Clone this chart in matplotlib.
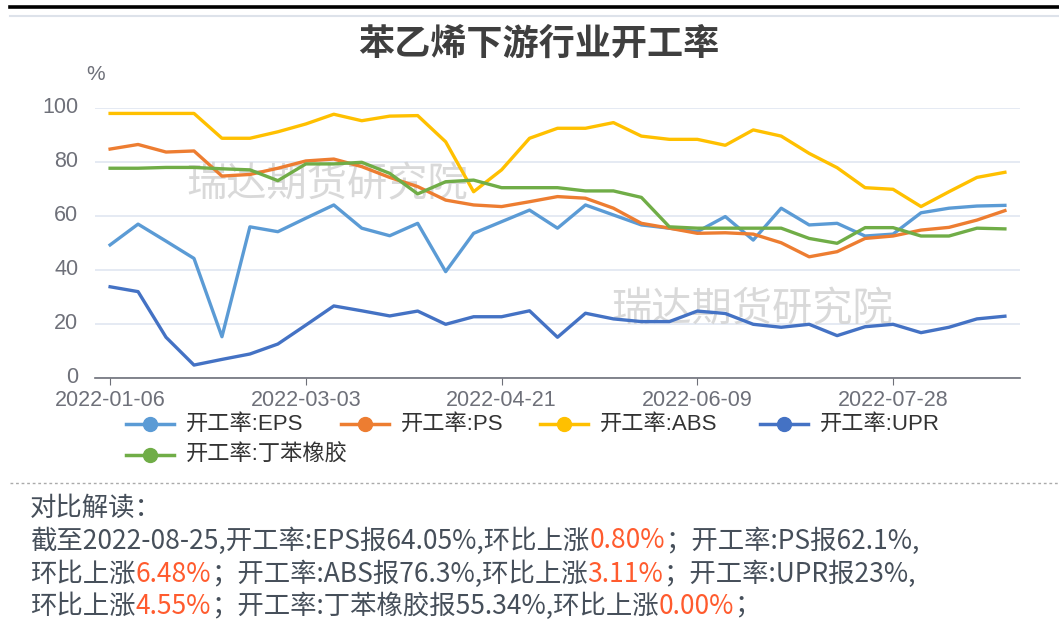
import matplotlib
matplotlib.use("Agg")
import matplotlib.pyplot as plt
import matplotlib.transforms as mtransforms
from matplotlib.lines import Line2D

plt.rcParams['font.family'] = ['Noto Sans CJK SC', 'DejaVu Sans']

W, H = 1059, 641

# weekly dates (spring festival week missing)
dates = ["2022-01-06", "2022-01-13", "2022-01-20", "2022-01-27", "2022-02-10",
         "2022-02-17", "2022-02-24", "2022-03-03", "2022-03-10", "2022-03-17",
         "2022-03-24", "2022-03-31", "2022-04-07", "2022-04-14", "2022-04-21",
         "2022-04-28", "2022-05-05", "2022-05-12", "2022-05-19", "2022-05-26",
         "2022-06-02", "2022-06-09", "2022-06-16", "2022-06-23", "2022-06-30",
         "2022-07-07", "2022-07-14", "2022-07-21", "2022-07-28", "2022-08-04",
         "2022-08-11", "2022-08-18", "2022-08-25"]

eps = [49.4, 57.1, 50.8, 44.4, 15.4, 56.1, 54.3, 59.3, 64.2, 55.6, 52.8,
       57.4, 39.5, 53.7, 58.0, 62.3, 55.6, 64.2, 60.5, 56.8, 55.6, 54.3,
       59.9, 51.2, 63.0, 56.8, 57.4, 52.7, 53.4, 61.3, 63.0, 63.8, 64.05]
ps = [84.9, 86.6, 83.8, 84.2, 74.9, 75.5, 77.8, 80.5, 81.2, 78.4, 74.4,
      71.0, 66.0, 64.2, 63.6, 65.4, 67.3, 66.7, 63.0, 57.4, 55.6, 53.7,
      53.9, 53.4, 50.2, 45.0, 46.9, 51.8, 52.7, 54.9, 55.9, 58.6, 62.1]
abs_ = [98.1, 98.1, 98.1, 98.1, 88.9, 88.9, 91.3, 94.2, 97.8, 95.4, 97.1,
        97.3, 87.6, 69.1, 77.2, 88.9, 92.6, 92.6, 94.7, 89.7, 88.5, 88.5,
        86.3, 92.0, 89.7, 83.3, 78.0, 70.6, 70.0, 63.6, 69.1, 74.4, 76.3]
upr = [33.9, 32.1, 15.2, 4.9, 7.0, 9.0, 12.7, 19.7, 26.8, 25.0, 23.1,
       24.9, 20.0, 22.8, 22.8, 25.0, 15.2, 24.1, 22.0, 21.0, 21.0, 24.9,
       24.0, 20.0, 18.9, 20.0, 15.8, 19.1, 20.0, 16.9, 18.9, 22.0, 23.0]
sbr = [77.8, 77.8, 78.1, 78.1, 77.6, 77.2, 73.2, 79.4, 79.4, 80.0, 75.9,
       68.3, 72.8, 73.4, 70.6, 70.6, 70.6, 69.4, 69.4, 67.0, 56.1, 55.6,
       55.6, 55.6, 55.6, 51.8, 50.0, 55.8, 55.8, 52.7, 52.7, 55.6, 55.34]

names = ["开工率:EPS", "开工率:PS", "开工率:ABS", "开工率:UPR", "开工率:丁苯橡胶"]
colors = ["#5B9BD5", "#ED7D31", "#FFC000", "#4472C4", "#70AD47"]
series = [eps, ps, abs_, upr, sbr]

fig = plt.figure(figsize=(W / 100, H / 100), dpi=100)
fig.patch.set_facecolor("white")


def fx(x):
    return x / W


def fy(y):
    return 1 - y / H


latin = ["Liberation Sans", "Noto Sans CJK SC", "DejaVu Sans"]

# page decorations
fig.add_artist(Line2D([fx(10), 1], [fy(7), fy(7)], color="black", lw=2.6))
fig.add_artist(Line2D([fx(10), 1], [fy(16), fy(16)], color="#dde2ea", lw=1.5))
fig.add_artist(Line2D([fx(10), 1], [fy(483), fy(483)], color="#aaaaaa", lw=1.0,
                      linestyle=(0, (2, 2))))

ax = fig.add_axes([fx(95), fy(378.3), (1020 - 95) / W, (378.3 - 108.3) / H])
x = list(range(len(dates)))
for vals, c in zip(series, colors):
    ax.plot(x, vals, color=c, lw=2.4, zorder=3, solid_joinstyle="round")

ax.set_xlim(-0.54, len(dates) - 1 + 0.54)
ax.set_ylim(0, 100)
ax.set_yticks(range(0, 101, 20))
ax.set_xticks(x[::7])
ax.set_xticklabels(dates[::7])
for s in ["top", "right", "left"]:
    ax.spines[s].set_visible(False)
ax.spines["bottom"].set_color("#6E7079")
ax.spines["bottom"].set_linewidth(1.2)
ax.yaxis.grid(True, color="#E0E6F1", lw=1.2, zorder=0)
ax.set_axisbelow(True)
ax.tick_params(axis="x", length=5, color="#6E7079", labelcolor="#6E7079",
               labelsize=15.5, pad=3.5)
ax.tick_params(axis="y", length=0, labelcolor="#6E7079", labelsize=15.5, pad=12)
for lab in ax.get_xticklabels() + ax.get_yticklabels():
    lab.set_family(["Liberation Sans", "DejaVu Sans"])
# lift the y labels a little so "0" clears the first date
lift = mtransforms.ScaledTranslation(0, 3 / 100, fig.dpi_scale_trans)
for lab in ax.get_yticklabels():
    lab.set_transform(lab.get_transform() + lift)

fig.text(fx(96), fy(74), "%", color="#6E7079", fontsize=15, ha="center", va="center",
         family=["Liberation Sans", "DejaVu Sans"])

# watermark
for wx, wy in [(327, 185), (752, 310)]:
    ax.text(fx(wx), fy(wy), "瑞达期货研究院", transform=fig.transFigure, fontsize=29,
            color="#d0d0d0", alpha=0.8, ha="center", va="center", zorder=1)

fig.text(fx(539), fy(44), "苯乙烯下游行业开工率", fontsize=26, fontweight="bold",
         color="#3f3f3f", ha="center", va="center")

# legend (flow layout like the original)
leg_pos = [(126, 424), (341, 424), (540, 424), (760, 424), (126, 455)]
for (lx, ly), name, c in zip(leg_pos, names, colors):
    fig.add_artist(Line2D([fx(lx), fx(lx + 48)], [fy(ly), fy(ly)], color=c, lw=2.5))
    fig.add_artist(Line2D([fx(lx + 24)], [fy(ly)], color=c, marker="o", markersize=10,
                          markeredgecolor=c))
    fig.text(fx(lx + 60), fy(ly), name, fontsize=16, color="#333333",
             ha="left", va="center", family=latin)

# commentary block
dark = "#464f5a"
red = "#ff5b2e"
lines = [
    [("对比解读：", dark)],
    [("截至2022-08-25,开工率:EPS报64.05%,环比上涨", dark), ("0.80%", red),
     ("；开工率:PS报62.1%,", dark)],
    [("环比上涨", dark), ("6.48%", red), ("；开工率:ABS报76.3%,环比上涨", dark),
     ("3.11%", red), ("；开工率:UPR报23%,", dark)],
    [("环比上涨", dark), ("4.55%", red), ("；开工率:丁苯橡胶报55.34%,环比上涨", dark),
     ("0.00%", red), ("；", dark)],
]
line_y = [508, 541, 574, 606]
renderer = fig.canvas.get_renderer()
for segs, ty in zip(lines, line_y):
    tx = 30
    for s, c in segs:
        t = fig.text(fx(tx), fy(ty), s, color=c, fontsize=19, ha="left", va="center")
        tx += t.get_window_extent(renderer).width

fig.savefig("out.png", dpi=100, facecolor="white")
